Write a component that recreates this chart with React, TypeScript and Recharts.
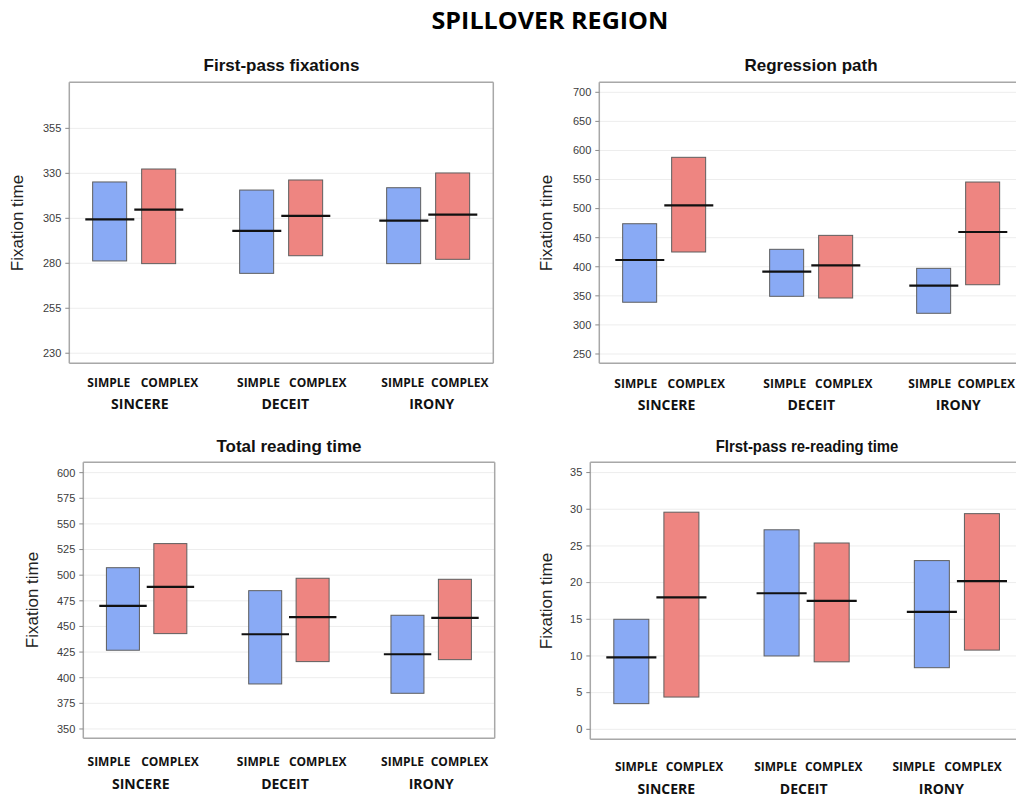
import React from 'react';
import { ComposedChart, Bar, Scatter, XAxis, YAxis, CartesianGrid } from 'recharts';

const groups = ['SINCERE', 'DECEIT', 'IRONY'];
const conditions = ['SIMPLE', 'COMPLEX'];

// order: SINCERE simple, SINCERE complex, DECEIT simple, DECEIT complex, IRONY simple, IRONY complex
const fixLow = [281.3, 279.8, 274.4, 284.2, 279.8, 282.2];
const fixHigh = [325.2, 332.4, 320.7, 326.3, 322, 330.2];
const fixMean = [304.4, 309.8, 298, 306.3, 303.7, 307];
const fixTicks = [230, 255, 280, 305, 330, 355];

const regLow = [339, 425.4, 349.2, 346.3, 320, 369.1];
const regHigh = [474, 588.2, 430, 454, 397.3, 545.7];
const regMean = [411.6, 505.7, 391.5, 402.5, 367.4, 459.8];
const regTicks = [250, 300, 350, 400, 450, 500, 550, 600, 650, 700];

const totLow = [426.8, 443, 393.9, 415.7, 384.8, 417.6];
const totHigh = [507.3, 530.8, 484.9, 497, 460.9, 496];
const totMean = [470, 488.5, 442.4, 459, 422.9, 458.3];
const totTicks = [350, 375, 400, 425, 450, 475, 500, 525, 550, 575, 600];

const rereadLow = [3.5, 4.4, 10, 9.2, 8.4, 10.8];
const rereadHigh = [15, 29.6, 27.2, 25.4, 23, 29.4];
const rereadMean = [9.8, 18, 18.55, 17.5, 16, 20.2];
const rereadTicks = [0, 5, 10, 15, 20, 25, 30, 35];

const BLUE = '#89aaf5';
const RED = '#ee8581';
const XH = 55;

function buildRows(low: number[], high: number[], mean: number[]) {
  const rows: any[] = [];
  groups.forEach((g, gi) => {
    if (gi > 0) rows.push({ key: 'gap' + gi, range: null, mean: null });
    conditions.forEach((c, ci) => {
      const i = gi * 2 + ci;
      rows.push({ key: g + '|' + c, group: g, cond: c, gi, ci, i, range: [low[i], high[i]], mean: mean[i] });
    });
  });
  return rows;
}

function RangeShape(props: any) {
  const { x, y, width, height, payload } = props;
  if (!payload || !payload.range) return <g />;
  return (
    <rect x={x} y={y} width={width} height={height}
      fill={payload.cond === 'SIMPLE' ? BLUE : RED} stroke="#5e5e5e" strokeWidth={1} />
  );
}

function makeMeanShape(w: number) {
  return (props: any) => {
    const { cx, cy, payload } = props;
    if (!payload || payload.mean == null) return <g />;
    return <line x1={cx - w / 2} x2={cx + w / 2} y1={cy} y2={cy} stroke="#111" strokeWidth={2.2} />;
  };
}

function CondTick(props: any) {
  const { x, y, payload, rows, nudge, groupNudge, band, dyCond, dyGroup } = props;
  const row = rows.find((r: any) => r.key === payload.value);
  if (!row || !row.cond) return <g />;
  return (
    <g>
      <text x={x + nudge[row.i]} y={y + dyCond} textAnchor="middle"
        style={{ fontFamily: 'Open Sans', fontWeight: 700, fontSize: 12, fill: '#111' }}>
        {row.cond}
      </text>
      {row.ci === 0 && (
        <text x={x + band / 2 + groupNudge[row.gi]} y={y + dyGroup} textAnchor="middle"
          style={{ fontFamily: 'Open Sans', fontWeight: 700, fontSize: 14, fill: '#111' }}>
          {row.group}
        </text>
      )}
    </g>
  );
}

function YTick(props: any) {
  const { x, y, payload } = props;
  return (
    <text x={x} y={y} dy="0.35em" textAnchor="end"
      style={{ fontFamily: 'Liberation Sans', fontSize: 11, fill: '#3c3c3c' }}>
      {payload.value}
    </text>
  );
}

function Panel(p: any) {
  const { box, frame, rows, ticks, domain, title, titleCx, titleCy, titleScale, ylabCx, dyCond, dyGroup, nudge, groupNudge } = p;
  const band = (frame.R - frame.L - 32) / 8;
  const plotCy = (frame.T + frame.B) / 2;
  return (
    <>
      <div style={{ position: 'absolute', left: titleCx, top: titleCy, transform: `translate(-50%,-50%) scaleX(${titleScale || 1})`,
        whiteSpace: 'nowrap', fontFamily: 'Liberation Sans', fontWeight: 700, fontSize: 17, color: '#111' }}>{title}</div>
      <div style={{ position: 'absolute', left: ylabCx, top: plotCy, transform: 'translate(-50%,-50%) rotate(-90deg)',
        whiteSpace: 'nowrap', fontFamily: 'Liberation Sans', fontSize: 17, color: '#222' }}>Fixation time</div>
      <div style={{ position: 'absolute', left: box.x, top: box.y }}>
        <ComposedChart width={box.w} height={box.h} data={rows} barCategoryGap="15%"
          margin={{ top: frame.T - box.y, right: box.x + box.w - frame.R, bottom: box.y + box.h - frame.B - XH, left: 0 }}>
          <CartesianGrid vertical={false} stroke="#ededed" />
          <CartesianGrid stroke="#a8a8a8" strokeWidth={1.5}
            horizontalCoordinatesGenerator={({ offset }: any) => [offset.top, offset.top + offset.height]}
            verticalCoordinatesGenerator={({ offset }: any) => [offset.left, offset.left + offset.width]} />
          <XAxis dataKey="key" type="category" interval={0} padding={{ left: 16, right: 16 }} axisLine={false}
            tickLine={false} tickSize={0} tickMargin={0} height={XH}
            tick={<CondTick rows={rows} nudge={nudge} groupNudge={groupNudge} band={band} dyCond={dyCond} dyGroup={dyGroup} />} />
          <YAxis type="number" domain={domain} ticks={ticks} interval={0} allowDataOverflow width={frame.L - box.x}
            axisLine={false} tickSize={4} tickMargin={4} tickLine={{ stroke: '#8a8a8a' }} tick={<YTick />} />
          <Bar dataKey="range" isAnimationActive={false} shape={RangeShape} />
          <Scatter dataKey="mean" isAnimationActive={false} shape={makeMeanShape(band)} />
        </ComposedChart>
      </div>
    </>
  );
}

export default function App() {
  return (
    <div style={{ position: 'fixed', left: 0, top: 0, width: 1016, height: 801, overflow: 'hidden', background: '#fff' }}>
      <div style={{ position: 'absolute', left: 549.5, top: 20.3, transform: 'translate(-50%,-50%) scaleX(1.09)',
        whiteSpace: 'nowrap', fontFamily: 'Open Sans', fontWeight: 700, fontSize: 23, color: '#000' }}>SPILLOVER REGION</div>
      <Panel box={{ x: 0, y: 40, w: 500, h: 380 }} frame={{ L: 69.3, T: 82.3, R: 493.3, B: 363.3 }}
        rows={buildRows(fixLow, fixHigh, fixMean)} ticks={fixTicks} domain={[224.4, 380.6]}
        title="First-pass fixations" titleCx={281.5} titleCy={65.7} ylabCx={18.3} dyCond={23.3} dyGroup={45.7}
        nudge={[-1, 10.7, 1.7, 12, -1, 7]} groupNudge={[5.6, 4, 3.5]} />
      <Panel box={{ x: 510, y: 40, w: 520, h: 380 }} frame={{ L: 599.3, T: 82.3, R: 1023.3, B: 363.3 }}
        rows={buildRows(regLow, regHigh, regMean)} ticks={regTicks} domain={[234, 717.2]}
        title="Regression path" titleCx={811} titleCy={65.7} ylabCx={547.3} dyCond={24.3} dyGroup={46.7}
        nudge={[-4, 7.5, -2, 8, -4, 3.5]} groupNudge={[2.3, 0, 0]} />
      <Panel box={{ x: 0, y: 420, w: 500, h: 381 }} frame={{ L: 83.3, T: 462.3, R: 494.7, B: 738.3 }}
        rows={buildRows(totLow, totHigh, totMean)} ticks={totTicks} domain={[340.9, 610.1]}
        title="Total reading time" titleCx={289} titleCy={446.7} ylabCx={33.3} dyCond={27.7} dyGroup={50.7}
        nudge={[-14, -0.5, -7, 5, -5, 4.5]} groupNudge={[-6, -4, 0]} />
      <Panel box={{ x: 510, y: 420, w: 520, h: 381 }} frame={{ L: 590.3, T: 462.3, R: 1023, B: 739.3 }}
        rows={buildRows(rereadLow, rereadHigh, rereadMean)} ticks={rereadTicks} domain={[-1.36, 36.4]}
        title="FIrst-pass re-reading time" titleCx={806.7} titleCy={446.7} titleScale={0.875} ylabCx={547.3}
        dyCond={31.7} dyGroup={55} nudge={[5, 13, -6, 2, -18, -9]} groupNudge={[10, -3, -15.5]} />
    </div>
  );
}
